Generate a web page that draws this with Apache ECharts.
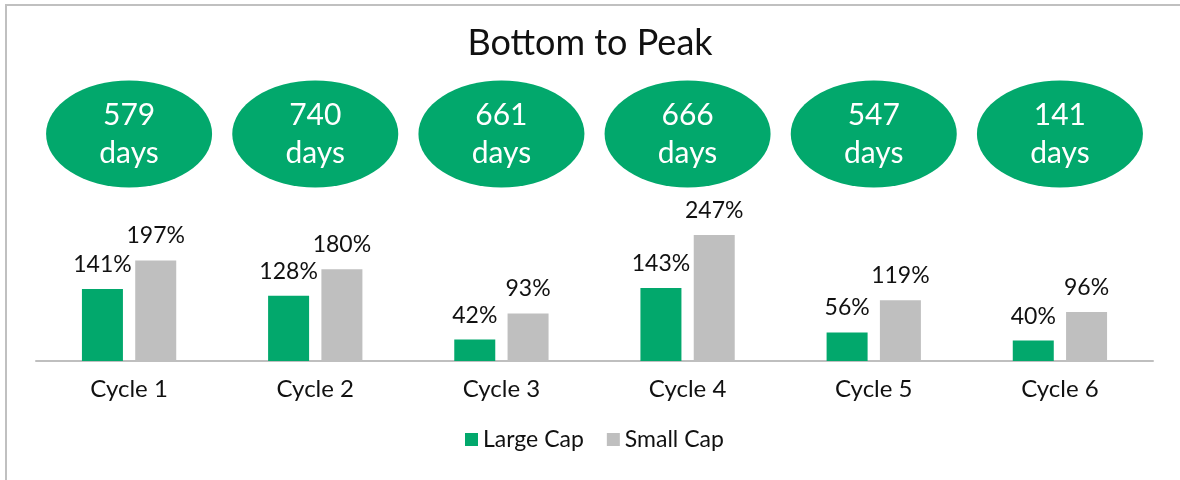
<!DOCTYPE html>
<html>
<head>
<meta charset="utf-8">
<title>Bottom to Peak</title>
<script src="https://cdn.jsdelivr.net/npm/echarts@6/dist/echarts.min.js"></script>
<style>
    html, body { margin: 0; padding: 0; background: #fff; }
    #frame {
        position: absolute;
        left: 5px;
        top: 4px;
        width: 1175px;
        height: 476px;
        border-top: 2px solid #c0c0c0;
        border-left: 2px solid #c0c0c0;
        box-sizing: border-box;
    }
    #chart { position: absolute; left: 0; top: 0; width: 1180px; height: 480px; }
</style>
</head>
<body>
<div id="frame"></div>
<div id="chart"></div>
<script>
// 周期数据
const cycles = ['Cycle 1', 'Cycle 2', 'Cycle 3', 'Cycle 4', 'Cycle 5', 'Cycle 6']
const days = [579, 740, 661, 666, 547, 141]
const largeCap = [141, 128, 42, 143, 56, 40]
const smallCap = [197, 180, 93, 247, 119, 96]

const FONT = 'Lato'
const GREEN = '#02a86c'
const GREY = '#bfbfbf'

let chart = echarts.init(document.getElementById('chart'))

let barLabel = {
    show: true,
    position: 'top',
    distance: 13,
    formatter: '{c}%',
    color: '#111',
    fontFamily: FONT,
    fontSize: 23
}

let option = {
    animation: false,
    title: {
        text: 'Bottom to Peak',
        left: 'center',
        top: 20,
        textStyle: { fontFamily: FONT, fontSize: 36, fontWeight: 'normal', color: '#111' }
    },
    legend: {
        left: 465,
        top: 428,
        padding: 0,
        itemWidth: 13,
        itemHeight: 13,
        itemGap: 23,
        icon: 'rect',
        textStyle: { fontFamily: FONT, fontSize: 23, color: '#111' },
        data: ['Large Cap', 'Small Cap']
    },
    grid: [
        // 柱状图
        { left: 36, right: 27, top: 208, bottom: 119 },
        // 天数椭圆
        { left: 36, right: 27, top: 80, height: 108 }
    ],
    xAxis: [
        {
            type: 'category',
            data: cycles,
            gridIndex: 0,
            axisLine: { lineStyle: { color: GREY, width: 2 } },
            axisTick: { show: false },
            axisLabel: { margin: 16, color: '#111', fontFamily: FONT, fontSize: 24 }
        },
        {
            type: 'category',
            data: cycles,
            gridIndex: 1,
            show: false
        }
    ],
    yAxis: [
        { type: 'value', min: 0, max: 300, gridIndex: 0, show: false, splitLine: { show: false } },
        { type: 'value', min: 0, max: 1, gridIndex: 1, show: false, splitLine: { show: false } }
    ],
    series: [
        {
            name: 'Large Cap',
            type: 'bar',
            data: largeCap,
            barWidth: 41,
            barGap: '30%',
            itemStyle: { color: GREEN },
            label: barLabel
        },
        {
            name: 'Small Cap',
            type: 'bar',
            data: smallCap,
            barWidth: 41,
            barGap: '30%',
            itemStyle: { color: GREY },
            label: barLabel
        },
        {
            name: 'days',
            type: 'scatter',
            xAxisIndex: 1,
            yAxisIndex: 1,
            symbol: 'circle',
            symbolSize: [166, 107],
            itemStyle: { color: GREEN, opacity: 1 },
            data: days.map((d, i) => ({ value: [i, 0.5], days: d })),
            label: {
                show: true,
                position: 'inside',
                formatter: p => p.data.days + '\ndays',
                color: '#fff',
                fontFamily: FONT,
                fontSize: 30,
                lineHeight: 38
            },
            silent: true
        }
    ]
}

chart.setOption(option)
</script>
</body>
</html>
